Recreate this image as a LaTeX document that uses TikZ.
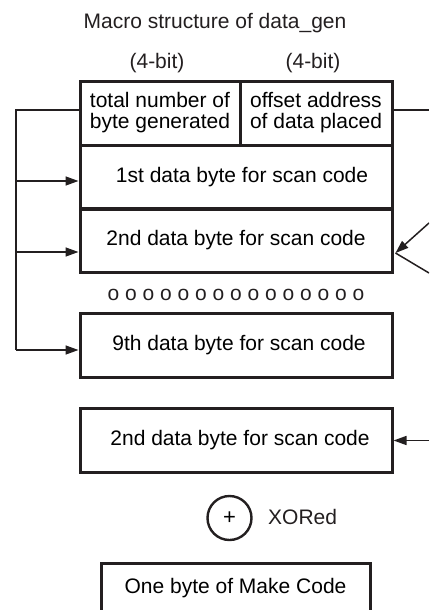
\documentclass[tikz,border=0pt]{standalone}
\usepackage{fontspec}
\setmainfont{Liberation Sans}
\usetikzlibrary{arrows.meta,calc}
\definecolor{ink}{RGB}{35,31,32}
\tikzset{
  field/.style={draw=ink,line width=3pt,minimum height=64pt,inner sep=0pt,align=center},
  label/.style={inner sep=0pt,text=ink},
  link/.style={draw=ink,line width=1.5pt},
  arr/.style={link,-{Triangle[length=13pt,width=9pt]}}
}
\begin{document}
\begin{tikzpicture}[x=1pt,y=1pt,yscale=-1,font=\fontsize{21}{21}\selectfont]
\clip (0,0) rectangle (429,610);

% Text Node
\node[label] (title) at (215,23) {Macro structure of data\_gen};
\node[label] (bitA) at (157,63) {(4-bit)};
\node[label] (bitB) at (313,63) {(4-bit)};

%Shape: Rows
\node[field,minimum width=160pt] (total) at (160,113) {total number of\\byte generated};
\node[field,minimum width=152pt] (offset) at (316,113) {offset address\\of data placed};
\node[field,minimum width=312pt] (first) at (236,177) {\hspace{12pt}1st data byte for scan code};
\node[field,minimum width=312pt] (second) at (236,240.5) {2nd data byte for scan code};
\node[label] (dots) at (236,295) {o o o o o o o o o o o o o o o};
\node[field,minimum width=312pt] (ninth) at (236,345.5) {\hspace{6pt}9th data byte for scan code};
\node[field,minimum width=312pt] (again) at (236,440.5) {\hspace{8pt}2nd data byte for scan code};

%Shape: Circle
\node[circle,draw=ink,line width=2.4pt,minimum size=44pt,inner sep=0pt,font=\fontsize{22}{22}\selectfont] (xor) at (229.5,518) {+};
\node[label,anchor=west] (xored) at (268,517) {XORed};
\node[field,minimum width=269pt,minimum height=50pt] (make) at (235.5,588) {One byte of Make Code};

%Straight Lines: left rail
\coordinate (railtop) at (16,110);
\coordinate (tap1) at (16,181);
\coordinate (tap2) at (16,252);
\coordinate (railbot) at (16,350);
\draw[link] (railtop -| total.west) -- (railtop) -- (railbot);
\draw[arr] (tap1) -- (tap1 -| first.west);
\draw[arr] (tap2) -- (tap2 -| second.west);
\draw[arr] (railbot) -- (railbot -| ninth.west);

%Straight Lines: right side
\coordinate (offR) at (429,110);
\coordinate (hitA) at (429,223);
\coordinate (hitB) at (429,273);
\coordinate (tip) at ($(second.east)+(2,12.5)$);
\coordinate (inR) at (429,440.5);
\draw[link] (offR -| offset.east) -- (offR);
\draw[arr] (hitA) -- (tip);
\draw[link] (tip) -- (hitB);
\draw[arr] (inR) -- (again.east);

\end{tikzpicture}
\end{document}
